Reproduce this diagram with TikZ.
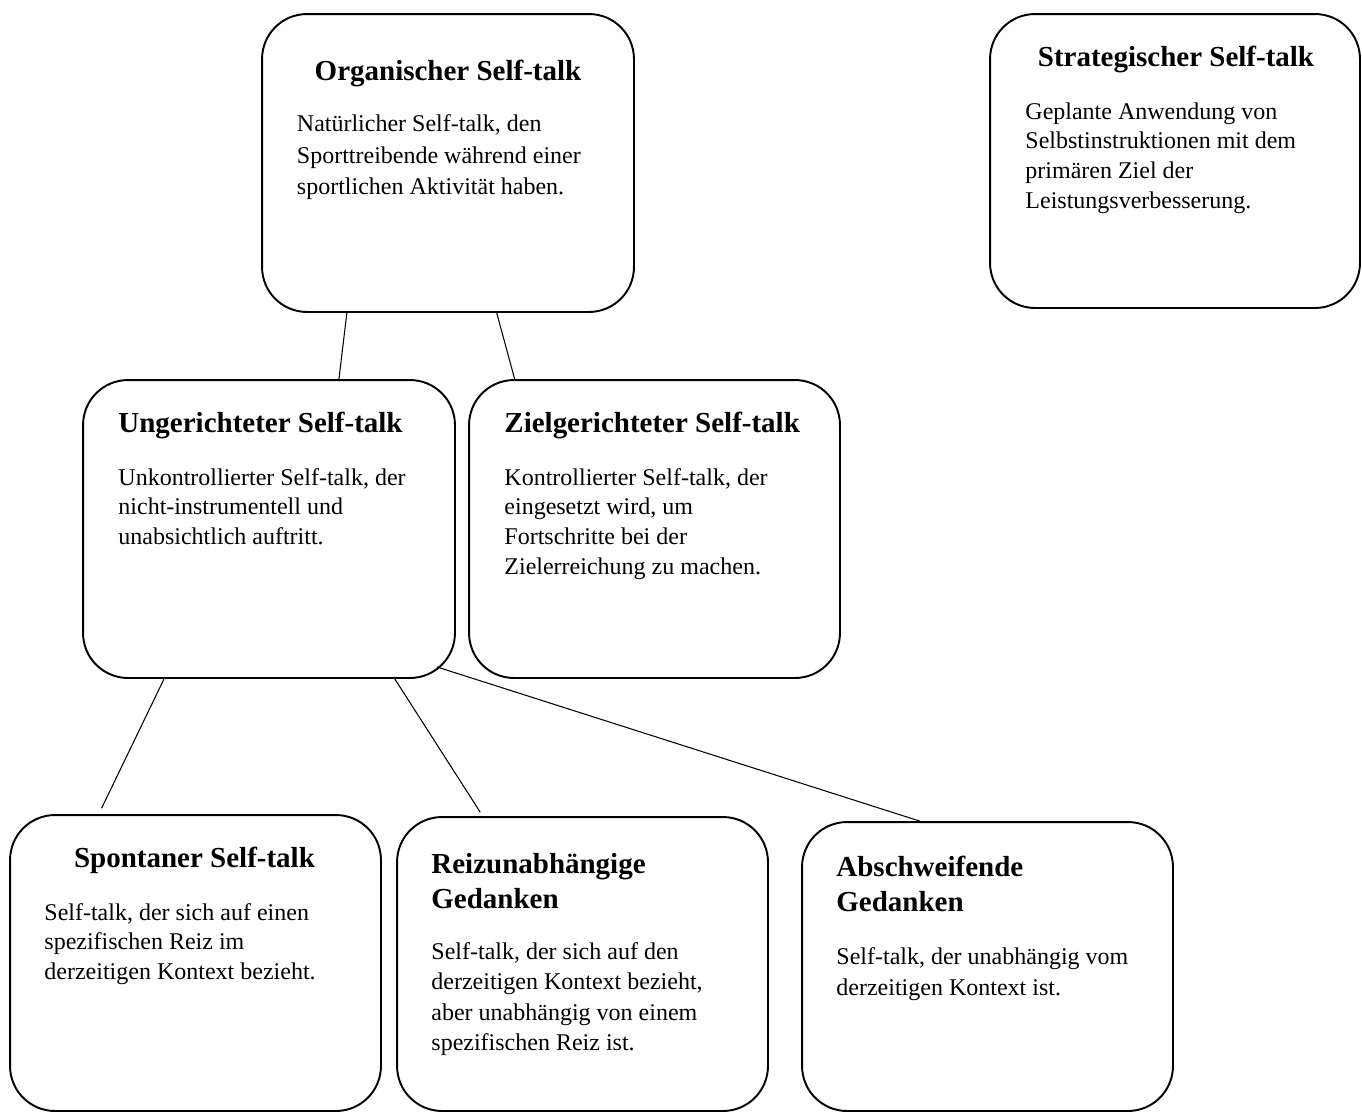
\documentclass[tikz,border=0pt]{standalone}
\usepackage{fontspec}
\setmainfont{Liberation Serif}
\usetikzlibrary{calc}
\tikzset{
  box/.style={draw, line width=1.1pt, rounded corners=0.9cm, inner sep=0pt,
    minimum width=7.42cm, minimum height=5.96cm},
  ttl/.style={inner sep=0pt, font=\fontsize{16.5pt}{20.2pt}\selectfont\bfseries, align=left},
  txt/.style={inner sep=0pt, font=\fontsize{13.66pt}{#1}\selectfont, align=left, anchor=north west},
  txt/.default=16.9pt,
  link/.style={line width=0.6pt}
}
\begin{document}
\begin{tikzpicture}[x=0.02cm, y=-0.02cm]
      \useasboundingbox (0,0) rectangle (1362,1113);
      \node[box, minimum width=7.44cm] (org) at (448,163) {};
      \node[box, minimum width=7.40cm, minimum height=5.88cm] (strat) at (1175,161) {};
      \node[box, minimum width=7.44cm] (unger) at (269,529) {};
      \node[box] (ziel) at (654.5,529) {};
      \node[box, minimum height=5.92cm] (spont) at (195.5,963) {};
      \node[box, minimum height=5.88cm] (reiz) at (582.5,964) {};
      \node[box, minimum height=5.78cm] (absch) at (987.5,966.5) {};

      \node[ttl, anchor=base] (orgT) at ($(org.north)+(0,67)$) {Organischer Self-talk};
      \node[ttl, anchor=base] (stratT) at ($(strat.north)+(1,53)$) {Strategischer Self-talk};
      \node[ttl, anchor=base west] (ungerT) at ($(unger.north west)+(36,53)$) {Ungerichteter Self-talk};
      \node[ttl, anchor=base west] (zielT) at ($(ziel.north west)+(36,53)$) {Zielgerichteter Self-talk};
      \node[ttl, anchor=base] (spontT) at ($(spont.north)+(-1,53)$) {Spontaner Self-talk};
      \node[ttl, anchor=north west] (reizT) at ($(reiz.north west)+(35,32)$) {\strut Reizunabhängige\\Gedanken};
      \node[ttl, anchor=north west] (abschT) at ($(absch.north west)+(35,30)$) {\strut Abschweifende\\Gedanken};

      \node[txt=18pt] (orgB) at ($(org.north west)+(35.5,96)$)
        {\strut Natürlicher Self-talk, den\\Sporttreibende während einer\\sportlichen Aktivität haben.};
      \node[txt] (stratB) at ($(strat.north west)+(36,85)$)
        {\strut Geplante Anwendung von\\Selbstinstruktionen mit dem\\primären Ziel der\\Leistungsverbesserung.};
      \node[txt] (ungerB) at ($(unger.north west)+(36,85)$)
        {\strut Unkontrollierter Self-talk, der\\nicht-instrumentell und\\unabsichtlich auftritt.};
      \node[txt] (zielB) at ($(ziel.north west)+(36,85)$)
        {\strut Kontrollierter Self-talk, der\\eingesetzt wird, um\\Fortschritte bei der\\Zielerreichung zu machen.};
      \node[txt] (spontB) at ($(spont.north west)+(35,85)$)
        {\strut Self-talk, der sich auf einen\\spezifischen Reiz im\\derzeitigen Kontext bezieht.};
      \node[txt=17.2pt] (reizB) at ($(reiz.north west)+(35,122)$)
        {\strut Self-talk, der sich auf den\\derzeitigen Kontext bezieht,\\aber unabhängig von einem\\spezifischen Reiz ist.};
      \node[txt=17.5pt] (abschB) at ($(absch.north west)+(35,122)$)
        {\strut Self-talk, der unabhängig vom\\derzeitigen Kontext ist.};

      \coordinate (ungerC) at ($(unger.south east)+(-19,-12)$);
      \begin{scope}[link]
        \draw (org.236.4) to (unger.65.2);
        \draw (org.288.2) to (ziel.133.7);
        \draw[shorten >=0.13cm] (unger.235.3) to (spont.123.9);
        \draw[shorten >=0.09cm] (unger.310.9) to (reiz.124);
        \draw (ungerC) to (absch.115);
      \end{scope}
    \end{tikzpicture}
\end{document}
